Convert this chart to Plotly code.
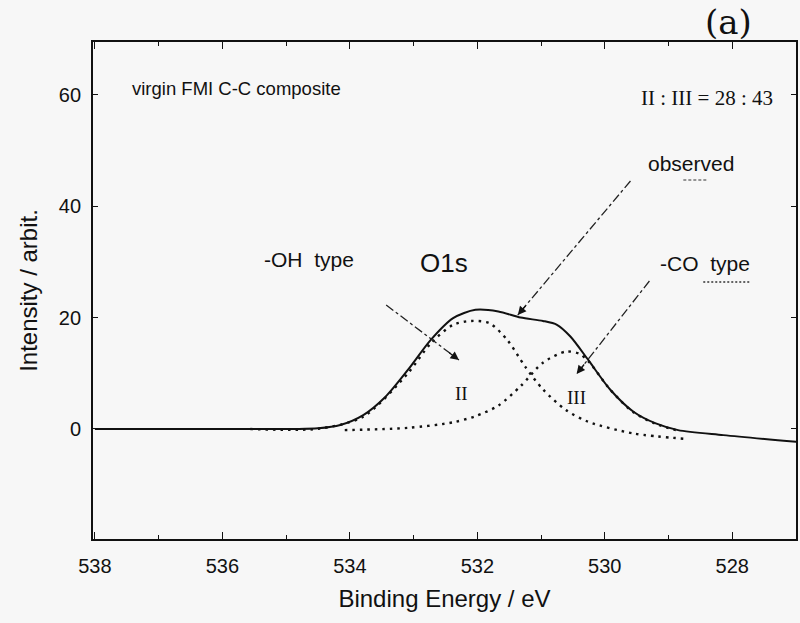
import plotly.graph_objects as go

# ---- data ----
obs_e = [538.0, 536.0, 535.2, 534.85, 534.50, 534.15, 533.79, 533.44, 533.09, 532.73, 532.38,
         532.03, 531.67, 531.32, 530.97, 530.75, 530.54, 530.26, 529.91, 529.55, 529.20,
         528.85, 528.14, 526.99]
obs_i = [0.0, 0.0, 0.0, 0.0, 0.12, 0.72, 2.5, 5.8, 10.6, 16.0, 19.9,
         21.4, 21.1, 20.0, 19.4, 18.7, 16.6, 12.4, 7.0, 3.1, 1.0,
         -0.2, -1.1, -2.3]

p2_e = [535.56, 534.50, 533.79, 533.09, 532.73, 532.38, 532.10, 531.81, 531.53, 531.25,
        530.97, 530.61, 530.26, 529.55, 528.70]
p2_i = [0.0, 0.04, 2.2, 10.0, 15.4, 18.7, 19.4, 19.0, 16.0, 11.2,
        7.1, 3.4, 1.3, -0.8, -1.8]

p3_e = [534.08, 533.09, 532.38, 532.03, 531.67, 531.32, 530.97, 530.61, 530.40, 530.26,
        529.91, 529.55, 529.20, 528.85]
p3_i = [-0.2, 0.2, 1.2, 2.3, 4.2, 7.7, 11.9, 13.9, 13.5, 12.2,
        7.0, 3.0, 0.9, -0.3]

x_ticks = [538, 536, 534, 532, 530, 528]
y_ticks = [0, 20, 40, 60]

# ---- layout geometry ----
W, H = 800, 623
L, R, T, B = 93, 798, 42, 539
XR = [538.03, 527.0]
YR = [-19.75, 69.48]


def fx(xp):
    return (xp - L) / (R - L)


def fy(yp):
    return (B - yp) / (B - T)


INK = "#111111"
SANS = "Liberation Sans, Arial, sans-serif"
SERIF = "Liberation Serif, Times New Roman, serif"
DOT = "2.5px,5px"

fig = go.Figure()
fig.add_trace(go.Scatter(x=obs_e, y=obs_i, mode="lines", line=dict(color=INK, width=2, shape="spline", smoothing=0.8),
                         showlegend=False, hoverinfo="skip"))
fig.add_trace(go.Scatter(x=p2_e, y=p2_i, mode="lines", line=dict(color=INK, width=2.4, dash=DOT, shape="spline", smoothing=0.8),
                         showlegend=False, hoverinfo="skip"))
fig.add_trace(go.Scatter(x=p3_e, y=p3_i, mode="lines", line=dict(color=INK, width=2.4, dash=DOT, shape="spline", smoothing=0.8),
                         showlegend=False, hoverinfo="skip"))

annotations = []


def txt(s, xp, yp, size, font=SANS, xanchor="center"):
    annotations.append(dict(text=s, x=fx(xp), y=fy(yp), xref="paper", yref="paper", showarrow=False,
                            xanchor=xanchor, yanchor="middle", font=dict(family=font, size=size, color=INK)))


txt("virgin FMI C-C composite", 130, 88, 18.5, xanchor="left")
txt("II : III = 28 : 43", 709, 98, 21, font=SERIF)
txt("observed", 693, 163, 21)
txt("-OH  type", 310, 259, 21)
txt("O1s", 445, 263, 26)
txt("-CO  type", 707, 263, 21)
txt("II", 463, 393, 19, font=SERIF)
txt("III", 578, 397, 19, font=SERIF)
annotations.append(dict(text="(a)", x=fx(756), y=fy(0), xref="paper", yref="paper", showarrow=False,
                        yanchor="top", font=dict(family="DejaVu Serif", size=34, color=INK)))

shapes = []


def arrow(x0, y0, x1, y1):
    shapes.append(dict(type="line", xref="paper", yref="paper", x0=fx(x0), y0=fy(y0), x1=fx(x1), y1=fy(y1),
                       line=dict(color="#222222", width=1.3, dash="dashdot")))
    dx, dy = x0 - x1, y0 - y1
    n = (dx * dx + dy * dy) ** 0.5
    annotations.append(dict(text="", x=fx(x1), y=fy(y1), xref="paper", yref="paper", showarrow=True,
                            ax=dx / n * 14, ay=dy / n * 14, arrowhead=2, arrowsize=1.3, arrowwidth=1.3,
                            arrowcolor="#111111"))


arrow(387, 305, 460, 360)
arrow(632, 181, 519, 315)
arrow(651, 281, 578, 374)

# small line samples under labels
shapes.append(dict(type="line", xref="paper", yref="paper", x0=fx(685), y0=fy(180), x1=fx(710), y1=fy(180),
                   line=dict(color="#333333", width=1.2, dash="3px,2px")))
shapes.append(dict(type="line", xref="paper", yref="paper", x0=fx(705), y0=fy(282), x1=fx(753), y1=fy(282),
                   line=dict(color="#333333", width=1.4, dash="2px,2px")))

fig.update_layout(
    width=W, height=H,
    margin=dict(l=L, r=W - R, t=T, b=H - B),
    paper_bgcolor="#f7f7f7", plot_bgcolor="#f7f7f7",
    annotations=annotations, shapes=shapes,
    font=dict(family=SANS, color=INK),
)
fig.update_xaxes(range=XR, tickvals=x_ticks, ticktext=[str(v) for v in x_ticks],
                 ticks="inside", ticklen=7, tickcolor=INK, tickwidth=1.2,
                 minor=dict(dtick=1, ticks="inside", ticklen=4, tickcolor=INK),
                 showline=True, linecolor=INK, linewidth=1.8, mirror="allticks",
                 showgrid=False, zeroline=False, ticklabelstandoff=8,
                 tickfont=dict(size=20, family=SANS, color=INK),
                 title=dict(text="Binding Energy / eV", font=dict(size=24, family=SANS, color=INK), standoff=14))
fig.update_yaxes(range=YR, tickvals=y_ticks, ticktext=[str(v) for v in y_ticks],
                 ticks="inside", ticklen=5, tickcolor=INK, tickwidth=1,
                 showline=True, linecolor=INK, linewidth=1.8, mirror="allticks",
                 showgrid=False, zeroline=False, ticklabelstandoff=6,
                 tickfont=dict(size=20, family=SANS, color=INK),
                 title=dict(text="Intensity / arbit.", font=dict(size=24, family=SANS, color=INK), standoff=14))

fig.write_html("out.html")
